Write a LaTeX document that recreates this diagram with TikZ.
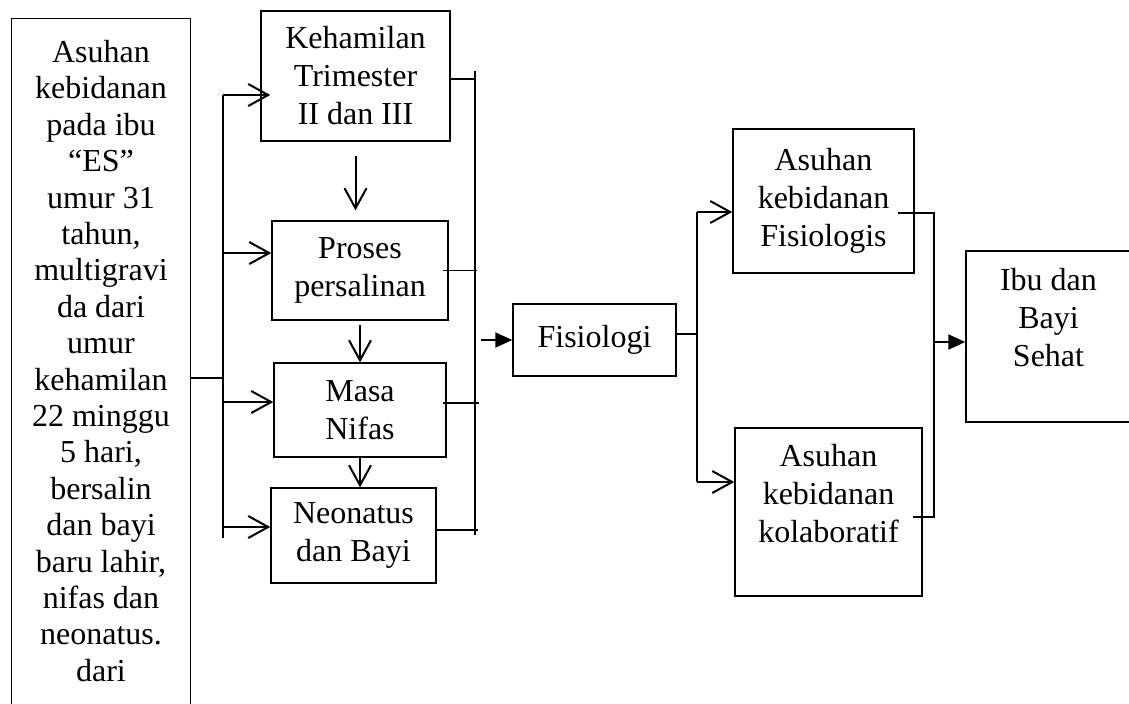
\documentclass[tikz,border=0pt]{standalone}
\usepackage{fontspec}
\setmainfont{Liberation Serif}
\usetikzlibrary{arrows.meta}

\begin{document}
\begin{tikzpicture}[x=0.5pt,y=-0.5pt,
  kotak/.style={draw,line width=0.7pt,align=center,inner sep=0pt,font=\fontsize{16}{19}\selectfont},
  garis/.style={line width=0.7pt},
  panah/.style={line width=1pt,-{Straight Barb[length=10pt,width=11pt,line width=1pt]}},
  panahp/.style={line width=1pt,-{Triangle[length=8.5pt,width=7.5pt]}}]
\useasboundingbox (0,0) rectangle (1129,703);

% kotak kiri (bawahnya terbuka)
\node[kotak,draw=none,minimum width=89pt,minimum height=342pt,font=\fontsize{16}{18.2}\selectfont] (asuhan) at (101,361)
  {Asuhan\\kebidanan\\pada ibu\\“ES”\\umur 31\\tahun,\\multigravi\\da dari\\umur\\kehamilan\\22 minggu\\5 hari,\\bersalin\\dan bayi\\baru lahir,\\nifas dan\\neonatus.\\dari};
\draw[garis] (asuhan.south west) -- (asuhan.north west) -- (asuhan.north east) -- (asuhan.south east);

\node[kotak,minimum width=94.5pt,minimum height=65pt] (hamil) at (355.5,76) {Kehamilan\\Trimester\\II dan III};
\node[kotak,minimum width=88pt,minimum height=49.5pt] (salin) at (360,270.5) {Proses\\persalinan};
\node[kotak,minimum width=86pt,minimum height=47pt] (nifas) at (360,410) {Masa\\Nifas};
\node[kotak,minimum width=82.5pt,minimum height=47.5pt] (neo) at (353.5,535.5) {Neonatus\\dan Bayi};
\node[kotak,minimum width=81.5pt,minimum height=36pt] (fis) at (594.5,340) {Fisiologi};
\node[kotak,minimum width=90.5pt,minimum height=72pt] (asfis) at (823.5,201) {Asuhan\\kebidanan\\Fisiologis};
\node[kotak,minimum width=93.5pt,minimum height=84pt] (askol) at (828.5,512) {Asuhan\\kebidanan\\kolaboratif\\~};
\node[kotak,minimum width=82.5pt,minimum height=85.5pt] (ibu) at (1048.5,336.5) {Ibu dan\\Bayi\\Sehat\\~};

% cabang kiri
\coordinate (k0) at (223,378);
\coordinate (k1) at (223,95);
\coordinate (k2) at (223,253);
\coordinate (k3) at (223,402);
\coordinate (k4) at (223,527);
\coordinate (k5) at (223,538);
\draw[garis] (asuhan.east |- k0) -- (k0);
\draw[garis] (k1) -- (k5);
\draw[panah] (k1) -- ([xshift=5pt]k1 -| hamil.west);
\draw[panah] (k2) -- (k2 -| salin.west);
\draw[panah] (k3) -- (k3 -| nifas.west);
\draw[panah] (k4) -- (k4 -| neo.west);

\draw[panah] ([yshift=-7pt]hamil.south) -- ([yshift=5pt]hamil.south |- salin.north);
\draw[panah] ([yshift=-2pt]salin.south) -- (salin.south |- nifas.north);
\draw[panah] (nifas.south) -- (nifas.south |- neo.north);

% garis kanan
\coordinate (r1) at (475,71);
\coordinate (r2) at (475,535);
\draw[garis] (r1) -- (r2);
\draw[garis] ([yshift=-1.5pt]hamil.east) -- ([yshift=-1.5pt]hamil.east -| r1);
\draw[garis] ([xshift=-3pt]salin.east) -- ([xshift=1pt]salin.east -| r1);
\draw[garis] ([xshift=-2pt,yshift=3.5pt]nifas.east) -- ([xshift=2pt,yshift=3.5pt]nifas.east -| r1);
\draw[garis] ([yshift=2.75pt]neo.east) -- ([xshift=1.5pt,yshift=2.75pt]neo.east -| r1);

\draw[panahp] ([xshift=-15.5pt]fis.west) -- (fis.west);

% cabang fisiologi
\coordinate (f1) at (697,212);
\coordinate (f2) at (697,482);
\draw[garis] ([yshift=3pt]fis.east) -- ([yshift=3pt]fis.east -| f1);
\draw[garis] (f1) -- (f2);
\draw[panah] (f1) -- (f1 -| asfis.west);
\draw[panah] (f2) -- (f2 -| askol.west);

% ke hasil
\coordinate (g1) at (934,213);
\coordinate (g2) at (934,517);
\coordinate (g3) at (934,342);
\draw[garis] ([xshift=-8.5pt]asfis.east |- g1) -- (g1) -- (g2) -- ([xshift=-5pt]askol.east |- g2);
\draw[panahp] (g3) -- (g3 -| ibu.west);

\end{tikzpicture}
\end{document}
